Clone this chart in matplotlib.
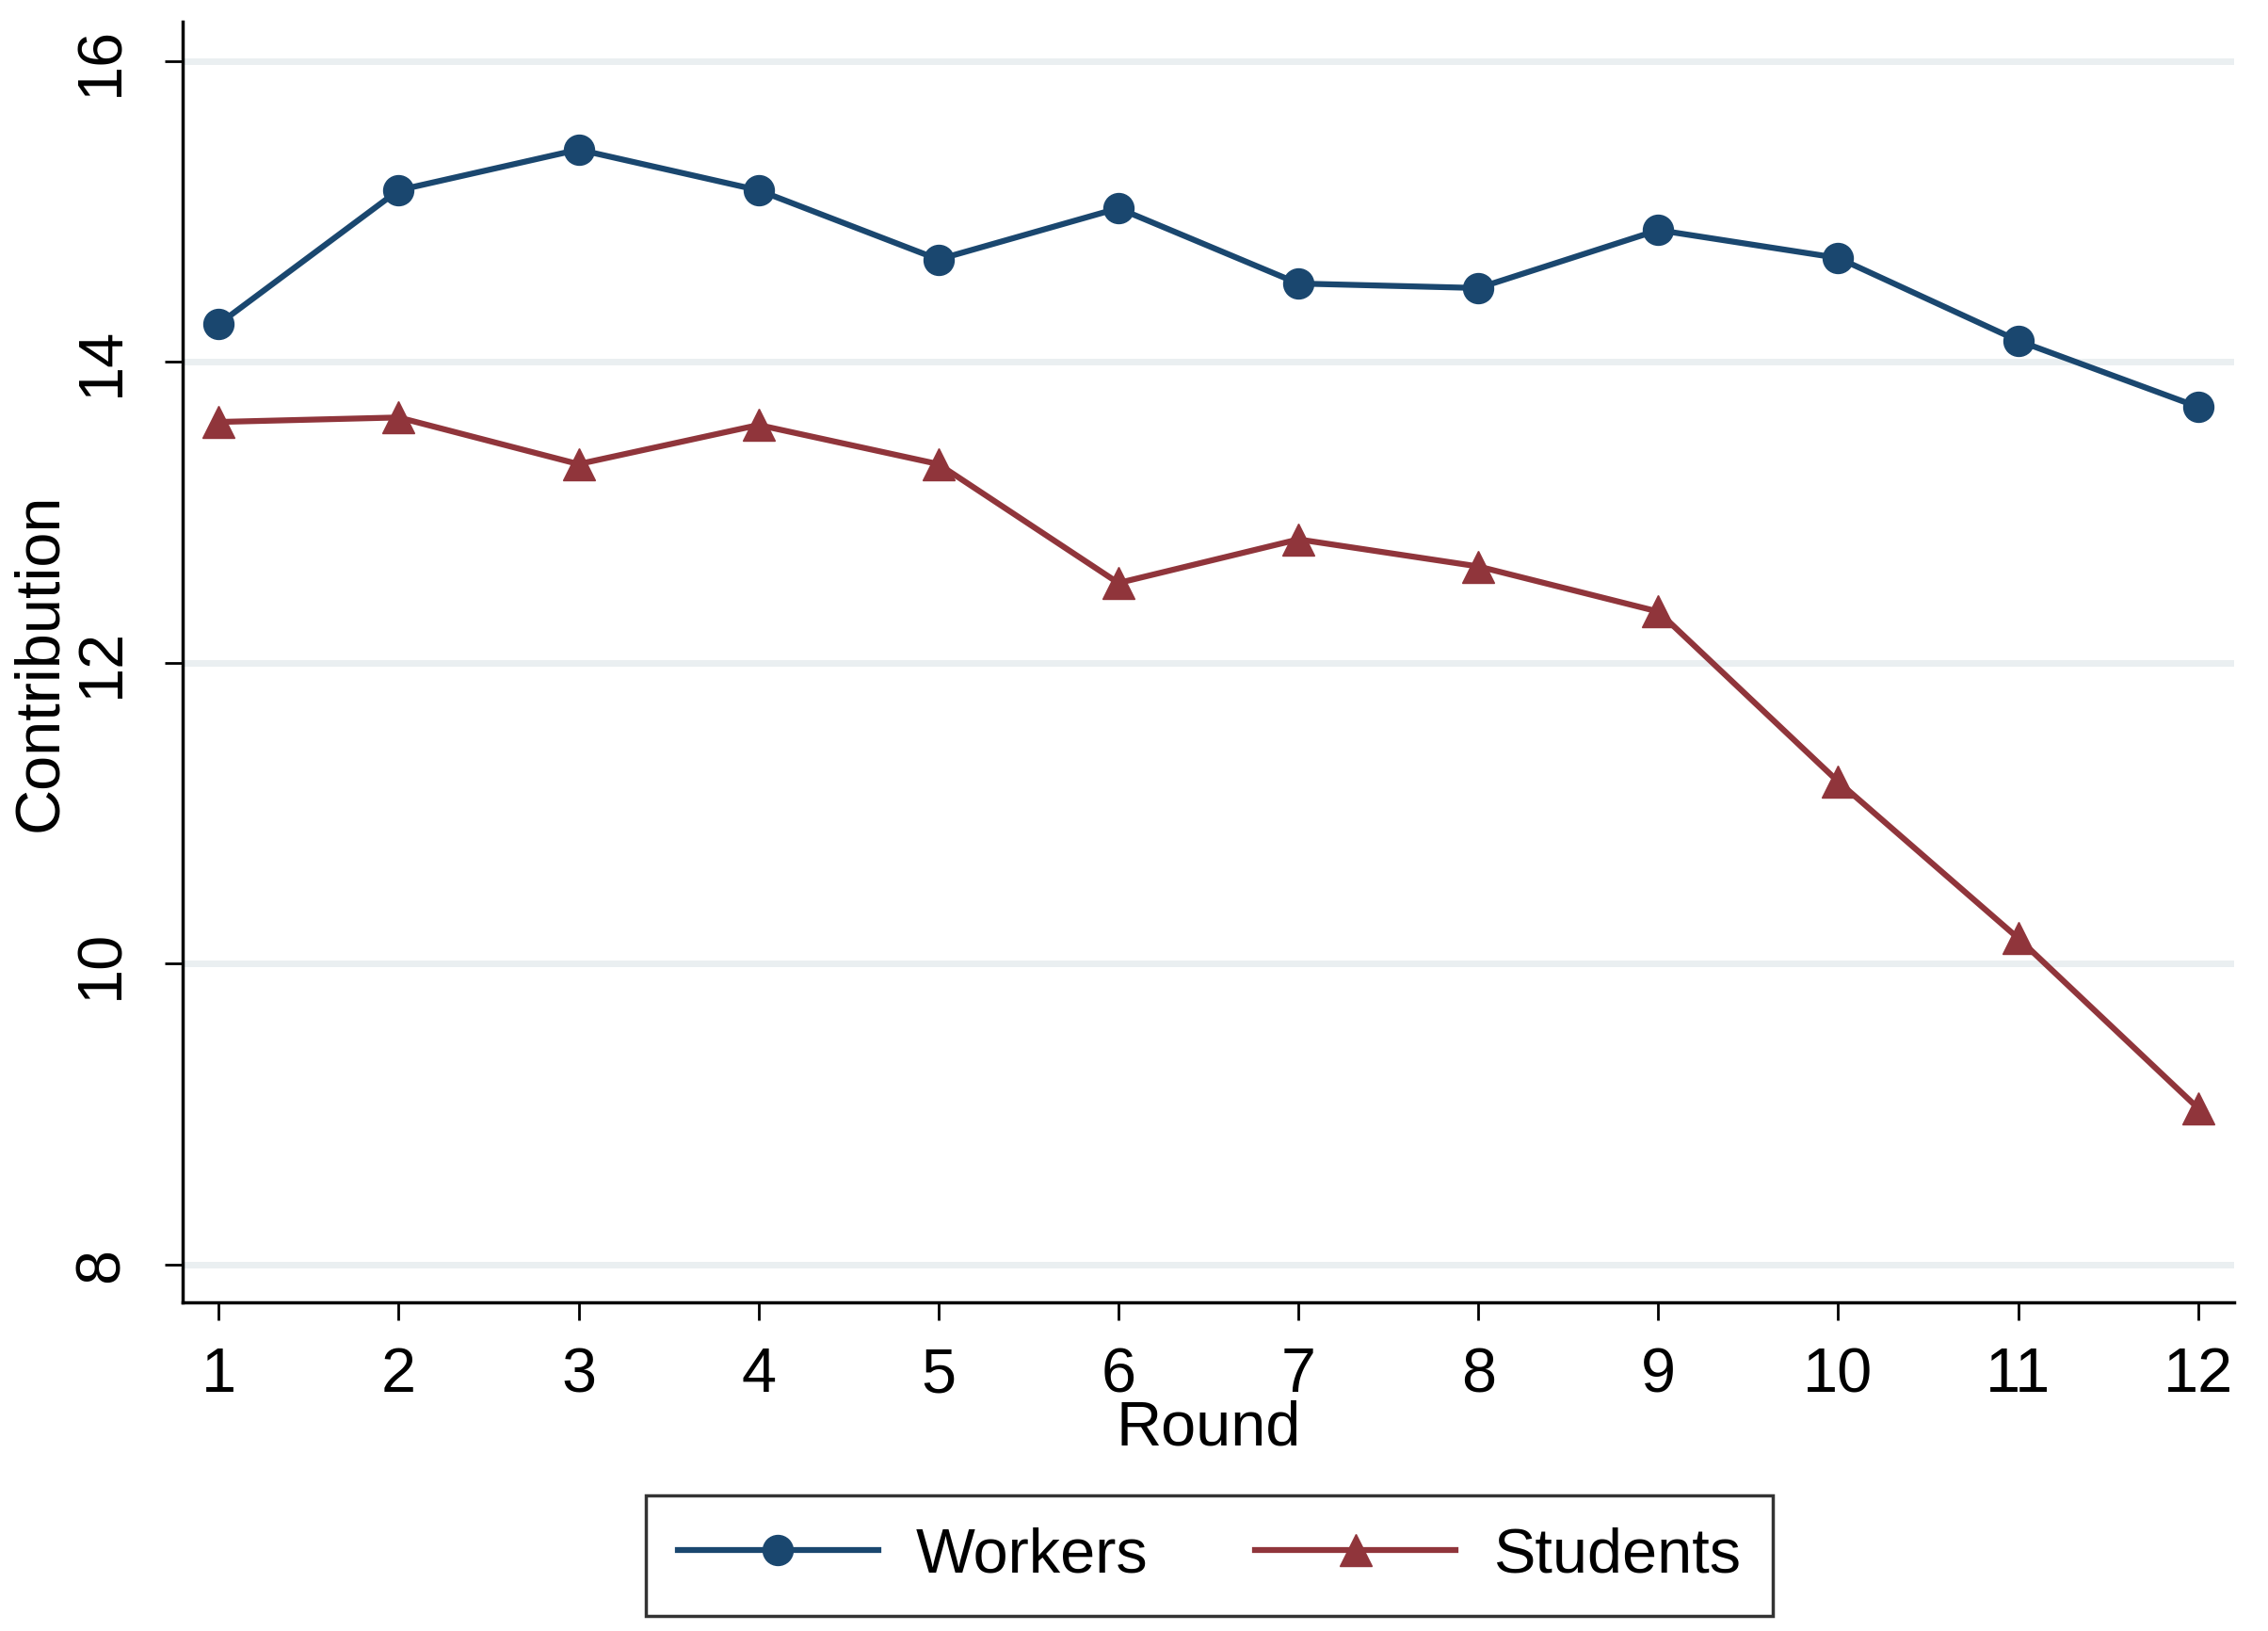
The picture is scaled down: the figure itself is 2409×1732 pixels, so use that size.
import numpy as np
import matplotlib
matplotlib.use('Agg')
from matplotlib import pyplot as plt

rounds = np.arange(1, 13)
workers = [14.25, 15.14, 15.41, 15.14, 14.68, 15.02, 14.52, 14.49, 14.875, 14.69, 14.14, 13.70]
students = [13.60, 13.63, 13.32, 13.58, 13.32, 12.53, 12.82, 12.64, 12.34, 11.21, 10.17, 9.04]
yticks = [8, 10, 12, 14, 16]

plt.rcParams['font.family'] = ['Liberation Sans', 'DejaVu Sans']

fig = plt.figure(figsize=(24.09, 17.32), dpi=100)
ax = fig.add_axes([194/2409, 1 - 1383/1732, (2373-194)/2409, (1383-23)/1732])

for y in yticks:
    ax.axhline(y, color='#eaeff1', lw=5, zorder=0)

ax.plot(rounds, workers, color='#1a476f', lw=4.5, marker='o', ms=23, label='Workers')
ax.plot(rounds, students, color='#90353b', lw=4.5, marker='^', ms=25, label='Students')

ax.set_xlim(0.8, 12.2)
ax.set_ylim(7.75, 16.26)
ax.set_xticks(rounds)
ax.set_yticks(yticks)
ax.set_yticklabels([str(v) for v in yticks], rotation=90, va='center')
ax.tick_params(axis='both', labelsize=48, length=14, width=2)
ax.tick_params(axis='x', pad=20)
ax.tick_params(axis='y', pad=25)
ax.spines['top'].set_visible(False)
ax.spines['right'].set_visible(False)
ax.spines['left'].set_linewidth(2.5)
ax.spines['bottom'].set_linewidth(2.5)

ax.set_xlabel('Round', fontsize=48, labelpad=-4)
ax.set_ylabel('Contribution', fontsize=48)
ax.yaxis.set_label_coords(-0.055, 0.5)

leg = fig.legend(loc='center', bbox_to_anchor=((687+1882)/2/2409, 1 - 1652/1732),
                 ncol=2, fontsize=48, frameon=True, fancybox=False,
                 edgecolor='black', handlelength=3.2, columnspacing=1.7,
                 borderpad=0.5, handletextpad=0.6)
leg.get_frame().set_linewidth(2.5)

fig.savefig('out.png', dpi=100, facecolor='white')
